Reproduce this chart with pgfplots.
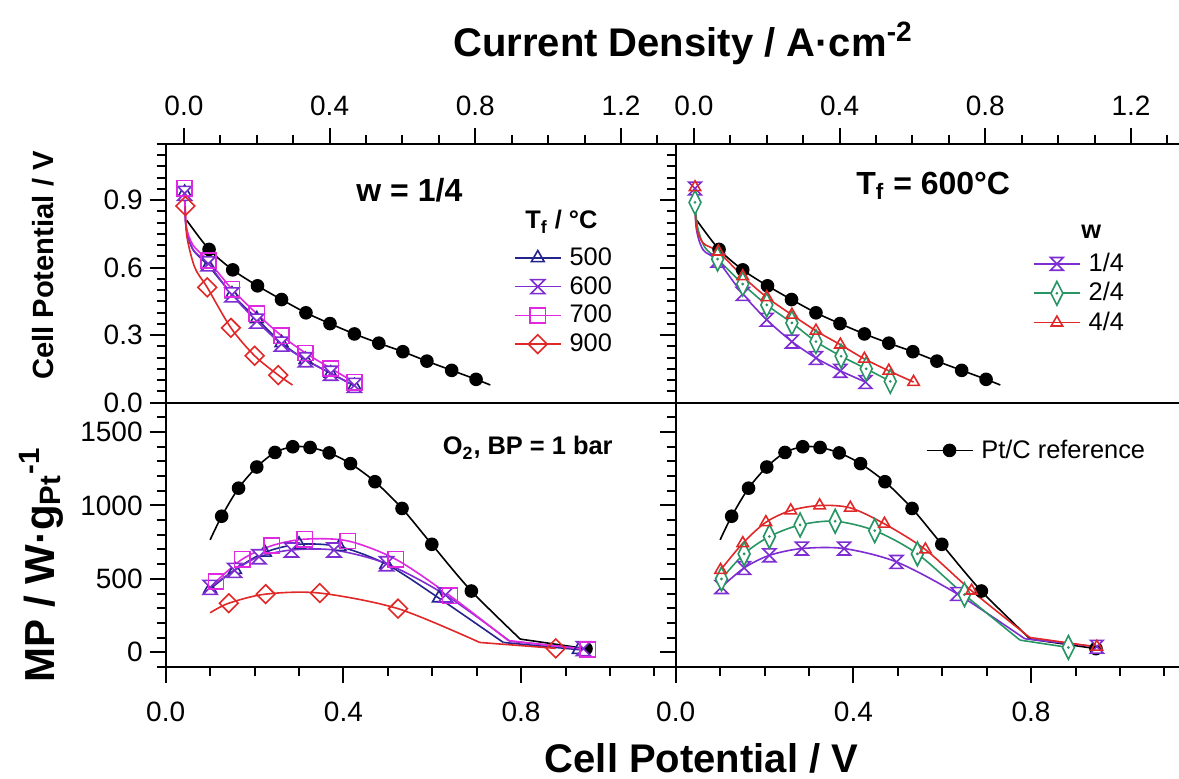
\documentclass[border=0pt]{standalone}
\usepackage{fontspec}
\setmainfont{Liberation Sans}
\usepackage{pgfplots}
\usepackage{pgfplotstable}
\pgfplotsset{compat=1.18}

\definecolor{cnavy}{RGB}{35,35,140}
\definecolor{cpurple}{RGB}{125,45,210}
\definecolor{cmag}{RGB}{225,40,225}
\definecolor{cred}{RGB}{225,40,40}
\definecolor{cgreen}{RGB}{40,150,100}

% open hourglass and slim diamond (with centre dot)
\pgfdeclareplotmark{hourglass}{%
  \pgfpathmoveto{\pgfqpoint{-\pgfplotmarksize}{\pgfplotmarksize}}%
  \pgfpathlineto{\pgfqpoint{\pgfplotmarksize}{\pgfplotmarksize}}%
  \pgfpathlineto{\pgfqpoint{-\pgfplotmarksize}{-\pgfplotmarksize}}%
  \pgfpathlineto{\pgfqpoint{\pgfplotmarksize}{-\pgfplotmarksize}}%
  \pgfpathclose\pgfusepathqfillstroke}
\pgfdeclareplotmark{slimdiamond}{%
  \pgfpathmoveto{\pgfqpoint{0pt}{1.8\pgfplotmarksize}}%
  \pgfpathlineto{\pgfqpoint{0.9\pgfplotmarksize}{0pt}}%
  \pgfpathlineto{\pgfqpoint{0pt}{-1.8\pgfplotmarksize}}%
  \pgfpathlineto{\pgfqpoint{-0.9\pgfplotmarksize}{0pt}}%
  \pgfpathclose\pgfusepathqfillstroke
  \pgfpathcircle{\pgfpointorigin}{0.2pt}\pgfusepathqstroke}

% Pt/C reference, same in both columns
\pgfplotstableread{
j V
0.008 0.81
0.069 0.681
0.134 0.590
0.202 0.519
0.268 0.458
0.335 0.399
0.401 0.351
0.468 0.305
0.535 0.264
0.601 0.226
0.667 0.184
0.735 0.143
0.802 0.103
0.841 0.078
}\ptcpol
\pgfplotstableread{
V MP
0.100 765
0.126 926
0.164 1117
0.205 1261
0.246 1360
0.286 1399
0.325 1394
0.368 1357
0.416 1284
0.471 1161
0.532 979
0.599 735
0.688 417
0.798 90
}\ptcmp

\pgfplotsset{
  panel/.style={
    scale only axis, width=255pt, anchor=south west,
    axis line style={line width=1pt},
    tick align=outside,
    major tick length=8pt, minor tick length=4.5pt,
    every tick/.style={black, line width=1pt},
    tick label style={font=\fontsize{14}{16}\selectfont},
    /pgf/number format/assume math mode=true,
    /pgf/number format/1000 sep={},
    every axis plot/.append style={line width=0.8pt},
    legend cell align=left,
    legend image code/.code={\draw[mark indices={2}] plot coordinates {(0pt,0pt) (11.5pt,0pt) (23pt,0pt)};},
  },
  onedec/.style={/pgf/number format/fixed, /pgf/number format/fixed zerofill, /pgf/number format/precision=1},
  toppanel/.style={panel, height=129.25pt,
    xmin=-0.05, xmax=1.35, ymin=0, ymax=1.15,
    xtick={0,0.4,0.8,1.2}, minor xtick={0,0.1,...,1.3},
    ytick={0,0.3,0.6,0.9}, minor ytick={0,0.05,...,1.15},
    xtick pos=right, xticklabel pos=right, ytick pos=left,
    xticklabel style={onedec, yshift=2.5pt}, yticklabel style={onedec}},
  botpanel/.style={panel, height=132.25pt,
    xmin=0, xmax=1.148, ymin=-100, ymax=1700,
    xtick={0,0.4,0.8}, minor xtick={0,0.1,...,1.1},
    ytick={0,500,1000,1500}, minor ytick={-100,0,...,1700},
    xtick pos=left, xticklabel pos=left, ytick pos=left,
    xticklabel style={onedec, yshift=-6pt}},
  legfont/.style={legend style={draw=none, fill=none, inner sep=0pt, row sep=2pt, column sep=3pt,
    font=\fontsize{12.7}{14}\selectfont, nodes={inner sep=1pt}}},
  ptc/.style={black, mark=*, mark size=3pt},
  s500/.style={cnavy, mark=triangle, mark size=3.7pt, mark options={fill=white}},
  s600/.style={cpurple, mark=hourglass, mark size=3.5pt, mark options={fill=white}},
  s700/.style={cmag, mark=square, mark size=3.8pt, mark options={fill=white}},
  s900/.style={cred, mark=square, mark size=3.3pt, mark options={fill=white, rotate=45}},
  w14/.style={cpurple, mark=hourglass, mark size=3.2pt, mark options={fill=white}},
  w24/.style={cgreen, mark=slimdiamond, mark size=3.3pt, mark options={fill=white}},
  w44/.style={cred, mark=triangle, mark size=3.3pt, mark options={fill=white}},
}

\begin{document}
\begin{tikzpicture}
% ---------- top left: polarisation, w = 1/4 ----------
\begin{axis}[toppanel, at={(82.85pt,187.75pt)}, legfont,
  legend style={at={(axis cs:0.905,0.70)}, anchor=north west}]
\addplot[ptc, smooth, forget plot, mark indices={2,3,4,5,6,7,8,9,10,11,12,13}] table[x=j, y=V] {\ptcpol};
\addplot[s500, smooth, mark indices={1,4,5,6,7,8,9,10}] coordinates {
(0.002,0.934) (0.006,0.78) (0.025,0.68) (0.067,0.609) (0.132,0.482) (0.200,0.372)
(0.268,0.265) (0.334,0.190) (0.403,0.130) (0.468,0.074)};
\addlegendentry{500}
\addplot[s600, smooth, mark indices={1,4,5,6,7,8,9,10}] coordinates {
(0.002,0.930) (0.006,0.78) (0.025,0.68) (0.067,0.617) (0.132,0.479) (0.200,0.362)
(0.268,0.260) (0.334,0.190) (0.403,0.130) (0.468,0.076)};
\addlegendentry{600}
\addplot[s700, smooth, mark indices={1,4,5,6,7,8,9,10}] coordinates {
(0.002,0.953) (0.006,0.79) (0.025,0.70) (0.067,0.631) (0.132,0.504) (0.200,0.395)
(0.268,0.297) (0.334,0.220) (0.403,0.152) (0.468,0.090)};
\addlegendentry{700}
\addplot[s900, smooth, mark indices={1,4,5,6,7}] coordinates {
(0.004,0.874) (0.008,0.74) (0.030,0.60) (0.064,0.512) (0.129,0.332) (0.194,0.208)
(0.259,0.122) (0.298,0.078)};
\addlegendentry{900}
\node[font=\bfseries\fontsize{16}{19}\selectfont] at (axis cs:0.619,0.946) {w = 1/4};
\node[font=\bfseries\fontsize{12.7}{15}\selectfont] at (axis cs:1.036,0.804) {T\textsubscript{f} / °C};
\end{axis}

% ---------- top right: polarisation, Tf = 600 C ----------
\begin{axis}[toppanel, at={(337.85pt,187.75pt)}, yticklabels={}, legfont,
  legend style={at={(axis cs:0.93,0.675)}, anchor=north west}]
\addplot[ptc, smooth, forget plot, mark indices={2,3,4,5,6,7,8,9,10,11,12,13}] table[x=j, y=V] {\ptcpol};
\addplot[w14, smooth, mark indices={1,4,5,6,7,8,9,10}] coordinates {
(0.003,0.952) (0.006,0.78) (0.025,0.68) (0.065,0.631) (0.134,0.483) (0.200,0.368)
(0.269,0.271) (0.335,0.198) (0.402,0.141) (0.471,0.091)};
\addlegendentry{1/4}
\addplot[w24, smooth, mark indices={1,4,5,6,7,8,9,10,11}] coordinates {
(0.003,0.890) (0.010,0.78) (0.030,0.69) (0.065,0.638) (0.134,0.527) (0.200,0.434)
(0.269,0.354) (0.335,0.271) (0.404,0.206) (0.473,0.150) (0.539,0.094)};
\addlegendentry{2/4}
\addplot[w44, smooth, mark indices={1,4,5,6,7,8,9,10,11,12}] coordinates {
(0.003,0.957) (0.006,0.79) (0.025,0.71) (0.067,0.671) (0.134,0.561) (0.200,0.468)
(0.269,0.390) (0.335,0.319) (0.402,0.257) (0.468,0.194) (0.535,0.141) (0.603,0.091)};
\addlegendentry{4/4}
\node[font=\bfseries\fontsize{16}{19}\selectfont] at (axis cs:0.657,0.965) {T\textsubscript{f} = 600°C};
\node[font=\bfseries\fontsize{12.7}{15}\selectfont] at (axis cs:1.091,0.758) {w};
\end{axis}

% ---------- bottom left: mass power, w = 1/4 ----------
\begin{axis}[botpanel, at={(82.85pt,55.5pt)}]
\addplot[ptc, smooth, mark indices={2,3,4,5,6,7,8,9,10,11,12,13}] table[x=V, y=MP] {\ptcmp};
\addplot[ptc, mark indices={2}] coordinates {(0.798,90) (0.946,25)};
\addplot[s500, smooth, mark indices={1,2,3,4,5,6,7}] coordinates {
(0.100,431) (0.156,562) (0.223,680) (0.300,735) (0.391,719) (0.497,599) (0.615,369) (0.760,67)};
\addplot[s500, mark indices={2}] coordinates {(0.760,67) (0.930,18)};
\addplot[s600, smooth, mark indices={1,2,3,4,5,6,7}] coordinates {
(0.100,442) (0.155,558) (0.210,650) (0.283,696) (0.379,696) (0.497,603) (0.630,390) (0.775,75)};
\addplot[s600, mark indices={2}] coordinates {(0.775,75) (0.940,25)};
\addplot[s700, smooth, mark indices={1,2,3,4,5,6,7}] coordinates {
(0.113,481) (0.172,633) (0.239,726) (0.313,770) (0.410,758) (0.518,633) (0.640,385) (0.771,80)};
\addplot[s700, mark indices={2}] coordinates {(0.771,80) (0.950,18)};
\addplot[s900, smooth, mark indices={2,3,4,5}] coordinates {
(0.100,269) (0.142,334) (0.225,396) (0.347,403) (0.523,297) (0.707,67)};
\addplot[s900, mark indices={2}] coordinates {(0.707,67) (0.878,27)};
\node[font=\bfseries\fontsize{12.7}{15}\selectfont] at (axis cs:0.815,1392) {O\textsubscript{2}, BP = 1 bar};
\end{axis}

% ---------- bottom right: mass power, Tf = 600 C ----------
\begin{axis}[botpanel, at={(337.85pt,55.5pt)}, yticklabels={}, legfont,
  legend style={at={(axis cs:0.562,1374)}, anchor=west}]
\addplot[ptc, smooth, mark indices={2,3,4,5,6,7,8,9,10,11,12,13}] table[x=V, y=MP] {\ptcmp};
\addlegendentry{Pt/C reference}
\addplot[ptc, forget plot, mark indices={2}] coordinates {(0.798,90) (0.946,25)};
\addplot[w14, smooth, forget plot, mark indices={1,2,3,4,5,6,7}] coordinates {
(0.103,444) (0.154,574) (0.211,660) (0.284,706) (0.379,706) (0.497,615) (0.634,397) (0.786,92)};
\addplot[w14, forget plot, mark indices={2}] coordinates {(0.786,92) (0.948,38)};
\addplot[w24, smooth, forget plot, mark indices={1,2,3,4,5,6,7,8}] coordinates {
(0.103,499) (0.154,670) (0.211,788) (0.280,867) (0.359,892) (0.448,828) (0.544,670) (0.650,392) (0.775,83)};
\addplot[w24, forget plot, mark indices={2}] coordinates {(0.775,83) (0.884,33)};
\addplot[w44, smooth, forget plot, mark indices={1,2,3,4,5,6,7,8,9}] coordinates {
(0.101,560) (0.151,742) (0.203,885) (0.259,965) (0.324,999) (0.393,983) (0.470,874) (0.562,699) (0.666,419) (0.797,101)};
\addplot[w44, forget plot, mark indices={2}] coordinates {(0.797,101) (0.948,37)};
\end{axis}

% ---------- axis titles ----------
\node[font=\bfseries\fontsize{20}{24}\selectfont, anchor=base] at (341.5pt,360.5pt) {Current Density / A·cm\textsuperscript{-2}};
\node[font=\bfseries\fontsize{20}{24}\selectfont, anchor=base] at (350.75pt,3pt) {Cell Potential / V};
\node[font=\bfseries\fontsize{14.6}{17}\selectfont, rotate=90] at (21.5pt,256.2pt) {Cell Potential / V};
\node[font=\bfseries\fontsize{21}{25}\selectfont, rotate=90] at (20.5pt,106.5pt) {MP / W·g\textsubscript{Pt}\textsuperscript{-1}};

\pgfresetboundingbox
\path[use as bounding box] (0pt,0pt) rectangle (589.5pt,389pt);
\end{tikzpicture}
\end{document}
